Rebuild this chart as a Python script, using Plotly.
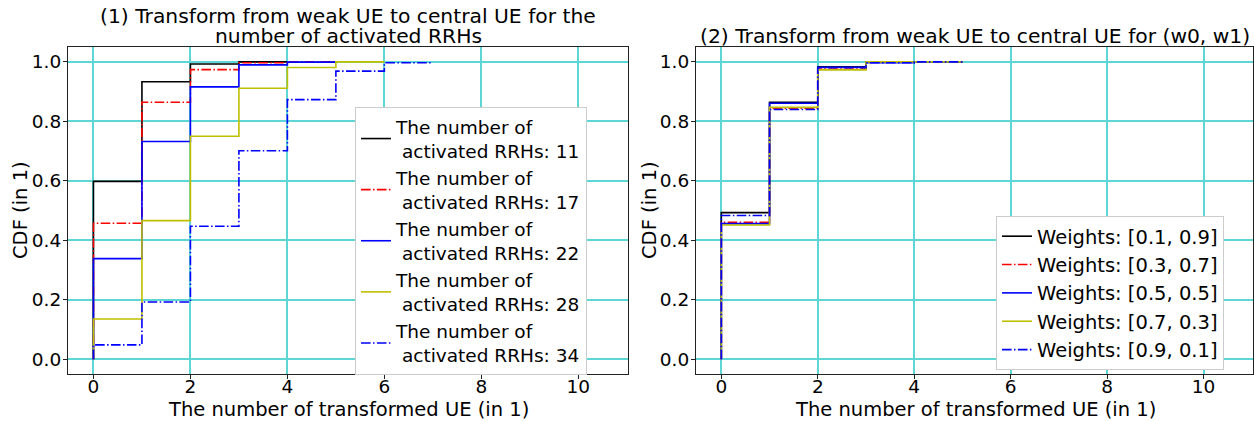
import plotly.graph_objects as go

# left panel: CDF per number of activated RRHs
rrh_labels = ["11", "17", "22", "28", "34"]
rrh_x = [
    [0, 0, 1, 2, 3, 4],
    [0, 0, 1, 2, 3, 4, 5],
    [0, 0, 1, 2, 3, 4, 5],
    [0, 0, 1, 2, 3, 4, 5, 6],
    [0, 0, 1, 2, 3, 4, 5, 6, 7],
]
rrh_cdf = [
    [0, 0.598, 0.933, 0.993, 1.0, 1.0],
    [0, 0.457, 0.864, 0.974, 0.997, 1.0, 1.0],
    [0, 0.338, 0.732, 0.916, 0.990, 0.999, 1.0],
    [0, 0.135, 0.466, 0.750, 0.911, 0.981, 1.0, 1.0],
    [0, 0.048, 0.192, 0.447, 0.701, 0.873, 0.969, 0.997, 0.997],
]

# right panel: CDF per weights (w0, w1)
weight_labels = ["[0.1, 0.9]", "[0.3, 0.7]", "[0.5, 0.5]", "[0.7, 0.3]", "[0.9, 0.1]"]
weight_x = [0, 0, 1, 2, 3, 4, 5]
weight_cdf = [
    [0, 0.493, 0.864, 0.983, 1.0, 1.0, 1.0],
    [0, 0.460, 0.844, 0.976, 1.0, 1.0, 1.0],
    [0, 0.456, 0.861, 0.982, 0.997, 1.0, 1.0],
    [0, 0.451, 0.847, 0.973, 1.0, 1.0, 1.0],
    [0, 0.483, 0.840, 0.980, 0.997, 1.0, 1.0],
]

DASHDOT = "9.6px,2.4px,1.5px,2.4px"
styles = [
    ("black", "solid"),
    ("red", DASHDOT),
    ("blue", "solid"),
    ("#bfbf00", "solid"),
    ("blue", DASHDOT),
]

FONT = "DejaVu Sans"
FS = 19.5
GRID = "rgb(95,214,214)"
W, H = 1254, 421

fig = go.Figure()

for xs, ys, lab, (col, dash) in zip(rrh_x, rrh_cdf, rrh_labels, styles):
    fig.add_trace(go.Scatter(
        x=xs, y=ys, mode="lines", line=dict(color=col, dash=dash, width=1.6, shape="hv"),
        name=f"The number of<br> activated RRHs: {lab}", xaxis="x", yaxis="y", legend="legend",
    ))

for ys, lab, (col, dash) in zip(weight_cdf, weight_labels, styles):
    fig.add_trace(go.Scatter(
        x=weight_x, y=ys, mode="lines", line=dict(color=col, dash=dash, width=1.6, shape="hv"),
        name=f"Weights: {lab}", xaxis="x2", yaxis="y2", legend="legend2",
    ))

axis_common = dict(
    showline=True, mirror=True, linecolor="#222222", linewidth=1.2,
    showgrid=True, gridcolor=GRID, gridwidth=1.5, zeroline=False,
    ticks="outside", ticklen=4, tickcolor="#222222", automargin=False,
    tickfont=dict(family=FONT, size=FS - 1, color="black"),
)
xcommon = dict(axis_common, range=[-0.525, 11.025], tickvals=[0, 2, 4, 6, 8, 10],
               ticklabelstandoff=-8)
ycommon = dict(axis_common, range=[-0.05, 1.05], tickvals=[0, 0.2, 0.4, 0.6, 0.8, 1.0],
               tickformat=".1f", ticklabelstandoff=-2)

legend_common = dict(
    bgcolor="white", bordercolor="#cccccc", borderwidth=1,
    xanchor="left", yanchor="top",
)

txt_font = dict(family=FONT, size=FS, color="black")
title_font = dict(family=FONT, size=20.3, color="black")


def px_x(x):
    return x / W


def px_y(y):
    return 1 - y / H


def label(text, x, y, angle=0, font=txt_font):
    return dict(text=text, x=px_x(x), y=px_y(y), xref="paper", yref="paper",
                xanchor="center", yanchor="middle", showarrow=False,
                textangle=angle, font=font)


fig.update_layout(
    width=W, height=H,
    margin=dict(l=0, r=0, t=0, b=0),
    paper_bgcolor="white", plot_bgcolor="white",
    font=dict(family=FONT, color="black"),
    xaxis=dict(xcommon, domain=[px_x(68), px_x(628)], anchor="y"),
    yaxis=dict(ycommon, domain=[px_y(374), px_y(47)], anchor="x"),
    xaxis2=dict(xcommon, domain=[px_x(696), px_x(1253)], anchor="y2"),
    yaxis2=dict(ycommon, domain=[px_y(374), px_y(47)], anchor="x2"),
    legend=dict(legend_common, x=px_x(355), y=px_y(107),
                font=dict(family=FONT, size=FS - 1, color="black")),
    legend2=dict(legend_common, x=px_x(996), y=px_y(216), font=txt_font),
    annotations=[
        label("(1) Transform from weak UE to central UE for the", 348, 15.5, font=title_font),
        label("number of activated RRHs", 348, 36.5, font=title_font),
        label("(2) Transform from weak UE to central UE for (w0, w1)", 975, 36.5, font=title_font),
        label("The number of transformed UE (in 1)", 348, 409),
        label("The number of transformed UE (in 1)", 975, 409),
        label("CDF (in 1)", 20, 210, -90),
        label("CDF (in 1)", 649, 210, -90),
    ],
)

# drop the browser's default body margin so the figure sits at (0, 0)
fig.write_html("out.html", config={"displayModeBar": False},
               post_script="document.body.style.margin='0';")
